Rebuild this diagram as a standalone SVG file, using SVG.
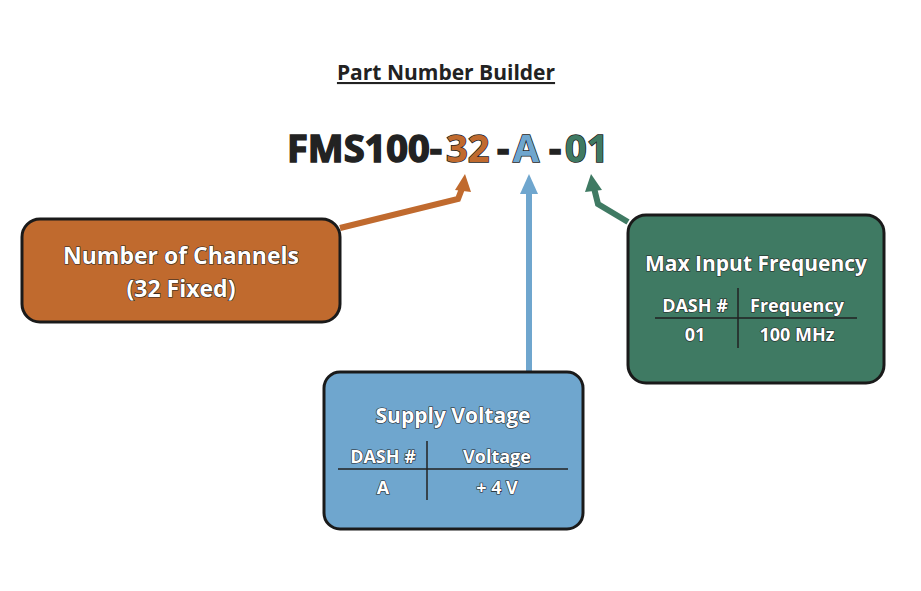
<svg xmlns="http://www.w3.org/2000/svg" width="921" height="591" viewBox="0 0 921 591">
<style>
text{font-family:"Open Sans","Liberation Sans",sans-serif;font-weight:bold}
.box{stroke:#1a1a1a;stroke-width:3}
.wt{fill:#fff;stroke:#222;stroke-width:1.2;paint-order:stroke;text-anchor:middle}
.pn{font-size:38px;stroke:#222;stroke-width:1.5;paint-order:stroke}
.ln{stroke:#222;stroke-width:1.5}
</style>
<defs>
<marker id="ao" markerWidth="6" markerHeight="6" refX="3" refY="3" orient="auto" markerUnits="userSpaceOnUse" viewBox="0 0 6 6"><path d="M0,0L6,3L0,6z" fill="#C06A2E"/></marker>
</defs>
<rect width="921" height="591" fill="#fff"/>
<text x="446" y="80" font-size="21" text-anchor="middle" fill="#222" text-decoration="underline">Part Number Builder</text>
<g id="partnumber">
<text class="pn" x="287" y="162" fill="#222">FMS100-</text>
<text class="pn" x="446" y="162" fill="#C06A2E">32</text>
<text class="pn" x="497" y="162" fill="#222">-</text>
<text class="pn" x="513" y="162" fill="#6FA6CE">A</text>
<text class="pn" x="549" y="162" fill="#222">-</text>
<text class="pn" x="565" y="162" fill="#3F7A63">01</text>
</g>
<g id="connectors" fill="none" stroke-width="6">
<path d="M340,228 L458,199 L463,186" stroke="#C06A2E"/>
<path d="M455,190 L465,174 L471,192 z" fill="#C06A2E" stroke="none"/>
<path d="M529,372 L529,190" stroke="#6FA6CE"/>
<path d="M520,194 L529,174 L538,194 z" fill="#6FA6CE" stroke="none"/>
<path d="M628,222 L598,204 L594,188" stroke="#3F7A63"/>
<path d="M585,192 L591,174 L602,190 z" fill="#3F7A63" stroke="none"/>
</g>
<g id="channels">
<rect class="box" x="22" y="219" width="318" height="103" rx="18" fill="#C06A2E"/>
<text class="wt" x="181" y="264" font-size="23">Number of Channels</text>
<text class="wt" x="181" y="297" font-size="23">(32 Fixed)</text>
</g>
<g id="voltage">
<rect class="box" x="324" y="372" width="259" height="157" rx="16" fill="#6FA6CE"/>
<text class="wt" x="453" y="423" font-size="21">Supply Voltage</text>
<text class="wt" x="383" y="463" font-size="18">DASH #</text>
<text class="wt" x="497" y="463" font-size="18">Voltage</text>
<text class="wt" x="383" y="494" font-size="18">A</text>
<text class="wt" x="497" y="494" font-size="18">+ 4 V</text>
<line class="ln" x1="338" y1="469" x2="568" y2="469"/>
<line class="ln" x1="427" y1="441" x2="427" y2="500"/>
</g>
<g id="frequency">
<rect class="box" x="628" y="215" width="256" height="168" rx="18" fill="#3F7A63"/>
<text class="wt" x="756" y="271" font-size="21">Max Input Frequency</text>
<text class="wt" x="695" y="312" font-size="18">DASH #</text>
<text class="wt" x="797" y="312" font-size="18">Frequency</text>
<text class="wt" x="695" y="341" font-size="18">01</text>
<text class="wt" x="797" y="341" font-size="18">100 MHz</text>
<line class="ln" x1="655" y1="318" x2="857" y2="318"/>
<line class="ln" x1="738" y1="288" x2="738" y2="348"/>
</g>
</svg>
